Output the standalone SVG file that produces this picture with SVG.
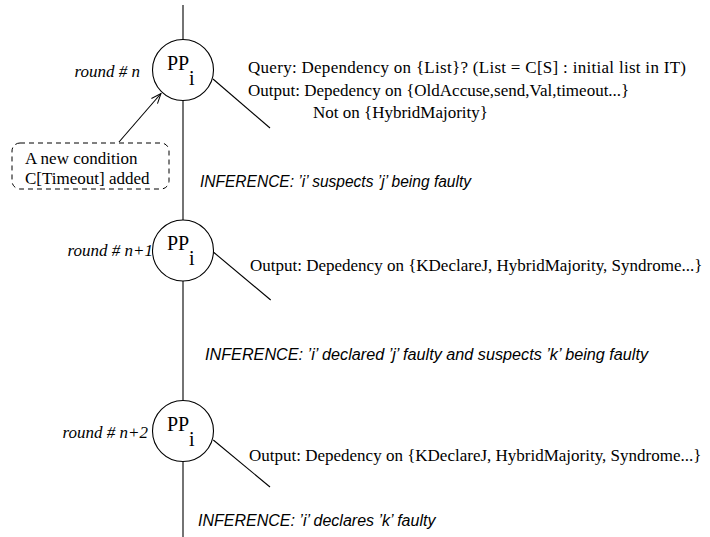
<svg xmlns="http://www.w3.org/2000/svg" width="710" height="537" viewBox="0 0 710 537">
  <defs>
    <style>
      .bg { fill: #ffffff; }
      .proc { fill: #ffffff; stroke: #000000; stroke-width: 1.1; }
      .wire { fill: none; stroke: #000000; stroke-width: 1.1; }
      .note-box { fill: none; stroke: #000000; stroke-width: 1; stroke-dasharray: 5 4; }
      .serif { font-family: "Liberation Serif", "Times New Roman", serif; font-size: 17px; fill: #000000; }
      .round { font-family: "Liberation Serif", "Times New Roman", serif; font-size: 17px; font-style: italic; fill: #000000; }
      .pp { font-family: "Liberation Serif", "Times New Roman", serif; font-size: 20px; fill: #000000; }
      .infer { font-family: "Liberation Sans", Arial, Helvetica, sans-serif; font-size: 16px; font-style: italic; fill: #000000; }
    </style>
    <marker id="openArrow" markerWidth="12" markerHeight="10" refX="11" refY="5" orient="auto" markerUnits="userSpaceOnUse">
      <path d="M1,1 L11,5 L1,9" fill="none" stroke="#000000" stroke-width="1"/>
    </marker>
  </defs>

  <rect class="bg" x="0" y="0" width="710" height="537"/>

  <!-- timeline segments, tick lines and the condition arrow -->
  <g id="connectors">
    <line class="wire" x1="183" y1="5" x2="183" y2="39.5"/>
    <line class="wire" x1="183" y1="100.5" x2="183" y2="220"/>
    <line class="wire" x1="183" y1="281" x2="183" y2="400.5"/>
    <line class="wire" x1="183" y1="461.5" x2="183" y2="537"/>
    <line class="wire" x1="213" y1="79" x2="270" y2="128"/>
    <line class="wire" x1="213.3" y1="252" x2="270.7" y2="300"/>
    <line class="wire" x1="213.3" y1="440" x2="270" y2="487"/>
    <line class="wire" x1="119" y1="142" x2="161" y2="93.5" marker-end="url(#openArrow)"/>
  </g>

  <!-- round n -->
  <g id="round-n">
    <circle class="proc" cx="183" cy="70" r="30.5"/>
    <text class="pp" x="167" y="70">PP</text>
    <text class="pp" x="189" y="85">i</text>
    <text class="round" x="140" y="77" text-anchor="end">round # n</text>
    <text class="serif" x="248" y="73" textLength="438" lengthAdjust="spacing">Query: Dependency on {List}? (List = C[S] : initial list in IT)</text>
    <text class="serif" x="248" y="96">Output: Depedency on {OldAccuse,send,Val,timeout...}</text>
    <text class="serif" x="313" y="118">Not on {HybridMajority}</text>
  </g>

  <!-- new condition note -->
  <g id="condition-note">
    <rect class="note-box" x="12" y="143" width="157" height="46" rx="8" ry="8"/>
    <text class="serif" x="25" y="164">A new condition</text>
    <text class="serif" x="25" y="184">C[Timeout] added</text>
  </g>

  <g id="inference-1">
    <text class="infer" x="200" y="187" textLength="271" lengthAdjust="spacingAndGlyphs">INFERENCE: ’i’ suspects ’j’ being faulty</text>
  </g>

  <!-- round n+1 -->
  <g id="round-n1">
    <circle class="proc" cx="183" cy="250.5" r="30.5"/>
    <text class="pp" x="167" y="250">PP</text>
    <text class="pp" x="189" y="265">i</text>
    <text class="round" x="153" y="256" text-anchor="end">round # n+1</text>
    <text class="serif" x="250" y="271">Output: Depedency on {KDeclareJ, HybridMajority, Syndrome...}</text>
  </g>

  <g id="inference-2">
    <text class="infer" x="205" y="360" textLength="443" lengthAdjust="spacingAndGlyphs">INFERENCE: ’i’ declared ’j’ faulty and suspects ’k’ being faulty</text>
  </g>

  <!-- round n+2 -->
  <g id="round-n2">
    <circle class="proc" cx="183" cy="431" r="30.5"/>
    <text class="pp" x="167" y="431">PP</text>
    <text class="pp" x="189" y="446">i</text>
    <text class="round" x="148" y="438" text-anchor="end">round # n+2</text>
    <text class="serif" x="249" y="461">Output: Depedency on {KDeclareJ, HybridMajority, Syndrome...}</text>
  </g>

  <g id="inference-3">
    <text class="infer" x="198" y="526">INFERENCE: ’i’ declares ’k’ faulty</text>
  </g>
</svg>
